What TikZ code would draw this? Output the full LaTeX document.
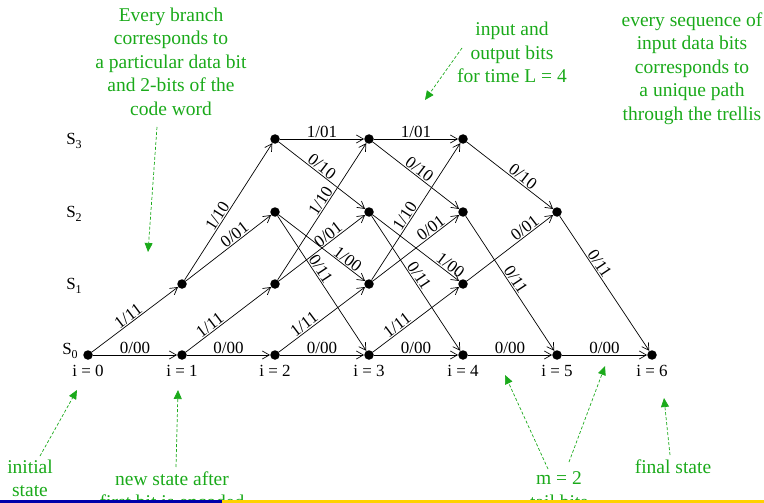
\documentclass[tikz,border=0pt]{standalone}
\usepackage{fontspec}
\setmainfont{Liberation Serif}
\usetikzlibrary{arrows.meta}
\definecolor{gtext}{RGB}{26,170,26}
\definecolor{barblue}{RGB}{0,0,170}
\definecolor{baryellow}{RGB}{255,210,0}
\tikzset{
  dot/.style={circle,fill=black,inner sep=0pt,minimum size=9.5pt},
  edge/.style={draw=black,line width=0.7pt,-{Straight Barb[length=7pt,width=8pt,line width=0.7pt]}},
  lab/.style={sloped,above,inner sep=1pt,font=\fontsize{17}{19}\selectfont},
  ilab/.style={font=\fontsize{17}{19}\selectfont,inner sep=0pt},
  slab/.style={font=\fontsize{17}{19}\selectfont,inner sep=0pt},
  gnote/.style={text=gtext,align=center,inner sep=0pt,font=\fontsize{19.5}{23.5}\selectfont},
  garrow/.style={draw=gtext,line width=0.7pt,dash pattern=on 3pt off 2pt,-{Triangle[length=9pt,width=8pt,fill=gtext]}}
}
\newcommand{\Slab}[1]{S\raisebox{-0.45ex}{\fontsize{12}{12}\selectfont #1}}
\begin{document}
\begin{tikzpicture}[x=1pt,y=-1pt]
\useasboundingbox (0,0) rectangle (764,503);
\clip (0,0) rectangle (764,503);
% trellis nodes
\node[dot] (n00) at (88,355) {};
\node[dot] (n10) at (182,355) {};
\node[dot] (n11) at (182,284) {};
\foreach \i/\x in {2/275,3/369,4/463}{
  \node[dot] (n\i0) at (\x,355) {};
  \node[dot] (n\i1) at (\x,284) {};
  \node[dot] (n\i2) at (\x,212) {};
  \node[dot] (n\i3) at (\x,139) {};
}
\node[dot] (n50) at (557,355) {};
\node[dot] (n52) at (557,212) {};
\node[dot] (n60) at (652,355) {};
% state labels
\node[slab] (s3) at (74,141) {\Slab{3}};
\node[slab] (s2) at (74,214) {\Slab{2}};
\node[slab] (s1) at (74,286) {\Slab{1}};
\node[slab] (s0) at (70,351) {\Slab{0}};
% time labels
\foreach \i in {0,1,2,3,4,5,6}{
  \node[ilab,anchor=north] (t\i) at ([yshift=-5pt]n\i0.south) {i = \i};
}
% edges i=0
\draw[edge] (n00) -- node[lab,pos=0.5]{0/00} (n10);
\draw[edge] (n00) -- node[lab,pos=0.47]{1/11} (n11);
% i=1
\draw[edge] (n10) -- node[lab,pos=0.5]{0/00} (n20);
\draw[edge] (n10) -- node[lab,pos=0.33]{1/11} (n21);
\draw[edge] (n11) -- node[lab,pos=0.62]{0/01} (n22);
\draw[edge] (n11) -- node[lab,pos=0.44]{1/10} (n23);
% i=2
\draw[edge] (n20) -- node[lab,pos=0.5]{0/00} (n30);
\draw[edge] (n20) -- node[lab,pos=0.34]{1/11} (n31);
\draw[edge] (n21) -- node[lab,pos=0.62]{0/01} (n32);
\draw[edge] (n21) -- node[lab,pos=0.55]{1/10} (n33);
\draw[edge] (n22) -- node[lab,pos=0.42]{0/11} (n30);
\draw[edge] (n22) -- node[lab,pos=0.75]{1/00} (n31);
\draw[edge] (n23) -- node[lab,pos=0.45]{0/10} (n32);
\draw[edge] (n23) -- node[lab,pos=0.5]{1/01} (n33);
% i=3
\draw[edge] (n30) -- node[lab,pos=0.5]{0/00} (n40);
\draw[edge] (n30) -- node[lab,pos=0.33]{1/11} (n41);
\draw[edge] (n31) -- node[lab,pos=0.72]{0/01} (n42);
\draw[edge] (n31) -- node[lab,pos=0.44]{1/10} (n43);
\draw[edge] (n32) -- node[lab,pos=0.47]{0/11} (n40);
\draw[edge] (n32) -- node[lab,pos=0.85]{1/00} (n41);
\draw[edge] (n33) -- node[lab,pos=0.49]{0/10} (n42);
\draw[edge] (n33) -- node[lab,pos=0.5]{1/01} (n43);
% i=4
\draw[edge] (n40) -- node[lab,pos=0.5]{0/00} (n50);
\draw[edge] (n41) -- node[lab,pos=0.72]{0/01} (n52);
\draw[edge] (n42) -- node[lab,pos=0.5]{0/11} (n50);
\draw[edge] (n43) -- node[lab,pos=0.6]{0/10} (n52);
% i=5
\draw[edge] (n50) -- node[lab,pos=0.5]{0/00} (n60);
\draw[edge] (n52) -- node[lab,pos=0.38]{0/11} (n60);
% green notes
\node[gnote] (g1) at (171,61.5) {Every branch\\corresponds to\\a particular data bit\\and 2-bits of the\\code word};
\node[gnote] (g2) at (512,52.5) {input and\\output bits\\for time L = 4};
\node[gnote] (g3) at (692,68.5) {every sequence of\\input data bits\\corresponds to\\a unique path\\through the trellis};
\node[gnote] (g4) at (30,478.5) {initial\\state};
\node[gnote] (g5) at (172,490) {new state after\\first bit is encoded};
\node[gnote] (g6) at (559,490) {m = 2\\tail bits};
\node[gnote] (g7) at (673,467) {final state};
% green arrow ends
\coordinate (a1s) at (157,127);
\coordinate (a1e) at (148,252);
\coordinate (a2s) at (462,48);
\coordinate (a2e) at (425,100);
\coordinate (a3s) at (40,456);
\coordinate (a3e) at (77,390);
\coordinate (a4s) at (176,467);
\coordinate (a4e) at (178,390);
\coordinate (a5s) at (548,469);
\coordinate (a5e) at (505,375);
\coordinate (a6s) at (569,462);
\coordinate (a6e) at (605,366);
\coordinate (a7s) at (670,455);
\coordinate (a7e) at (664,398);
\draw[garrow] (a1s) -- (a1e);
\draw[garrow] (a2s) -- (a2e);
\draw[garrow] (a3s) -- (a3e);
\draw[garrow] (a4s) -- (a4e);
\draw[garrow] (a5s) -- (a5e);
\draw[garrow] (a6s) -- (a6e);
\draw[garrow] (a7s) -- (a7e);
% bottom bar
\fill[barblue] (0,500) rectangle (222,503);
\fill[baryellow] (222,500) rectangle (764,503);
\end{tikzpicture}
\end{document}
